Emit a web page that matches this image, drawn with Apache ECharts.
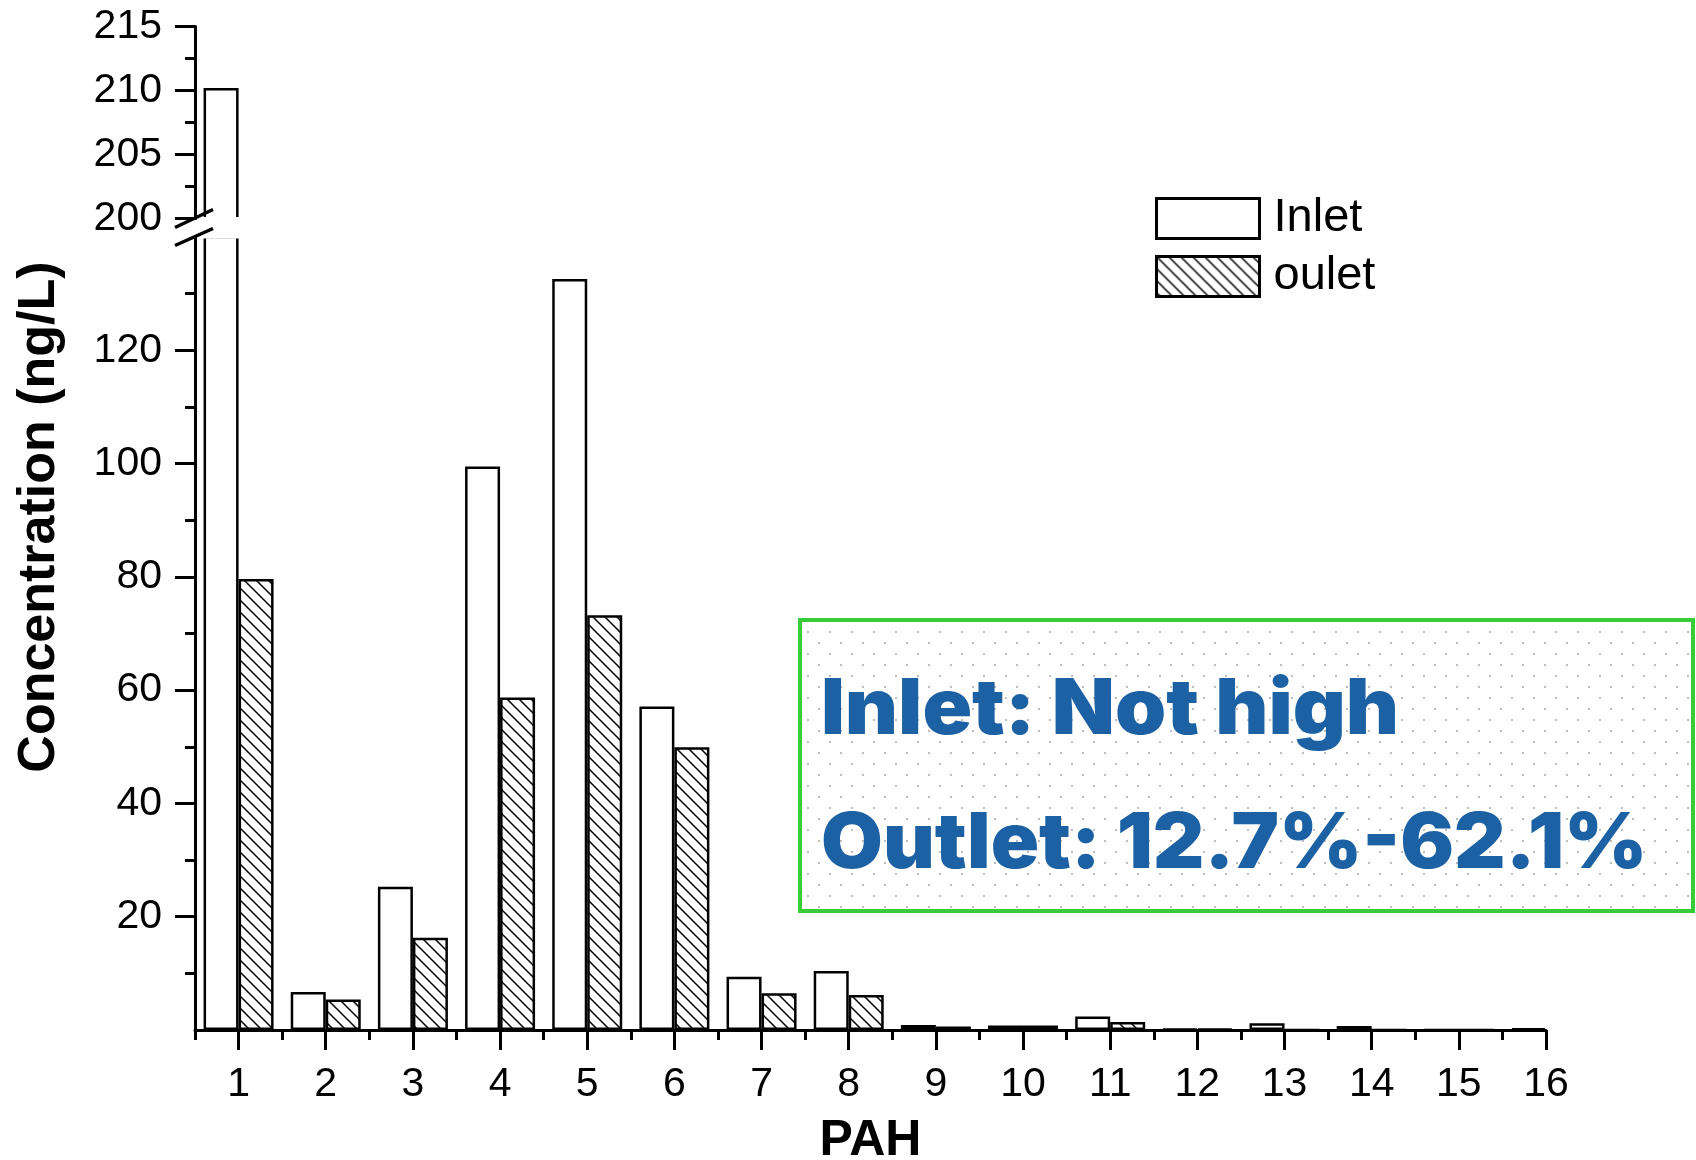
<!DOCTYPE html>
<html>
<head>
<meta charset="utf-8">
<script src="https://cdn.jsdelivr.net/npm/echarts@6/dist/echarts.min.js"></script>
<style>
  html, body { margin: 0; padding: 0; background: #fff; }
  #chart { width: 1696px; height: 1160px; }
</style>
</head>
<body>
<div id="chart"></div>
<script>
// ---- data ----
const categories = [1, 2, 3, 4, 5, 6, 7, 8, 9, 10, 11, 12, 13, 14, 15, 16];
const inletValues = [210.2, 6.7, 25.3, 99.5, 132.6, 57.1, 9.4, 10.4, 0.9, 0.8, 2.4, 0.2, 1.2, 0.7, 0, 0.3];
const outletValues = [79.6, 5.4, 16.3, 58.7, 73.2, 49.9, 6.5, 6.2, 0.6, 0.8, 1.4, 0.2, 0, 0, 0, null];
const xTickLabels = [1, 2, 3, 4, 5, 6, 7, 8, 9, 10, 11, 12, 13, 14, 15, 16];
const xMinorTicks = [0.5, 1.5, 2.5, 3.5, 4.5, 5.5, 6.5, 7.5, 8.5, 9.5, 10.5, 11.5, 12.5, 13.5, 14.5, 15.5];
const yUpperTicks = [200, 205, 210, 215];
const yLowerTicks = [20, 40, 60, 80, 100, 120];
const seriesNames = ['Inlet', 'oulet'];
const yTitle = 'Concentration (ng/L)';
const xTitle = 'PAH';
const noteLines = ['Inlet: Not high', 'Outlet: 12.7%-62.1%'];

// ---- patterns ----
function hatchCanvas() {
  const c = document.createElement('canvas');
  c.width = 12; c.height = 12;
  const g = c.getContext('2d');
  g.fillStyle = '#fff'; g.fillRect(0, 0, 12, 12);
  g.strokeStyle = '#000'; g.lineWidth = 1.5;
  g.beginPath();
  g.moveTo(-2, -2); g.lineTo(14, 14);
  g.moveTo(-2, 10); g.lineTo(2, 14);
  g.moveTo(10, -2); g.lineTo(14, 2);
  g.stroke();
  return c;
}
function dotCanvas() {
  const c = document.createElement('canvas');
  c.width = 22; c.height = 22;
  const g = c.getContext('2d');
  g.fillStyle = '#fff'; g.fillRect(0, 0, 22, 22);
  g.fillStyle = '#bdbdbd';
  g.fillRect(4, 4, 2, 2);
  g.fillRect(15, 15, 2, 2);
  return c;
}
const hatch = { image: hatchCanvas(), repeat: 'repeat' };
const dots = { image: dotCanvas(), repeat: 'repeat' };

const FONT = 'Liberation Sans, Arial, sans-serif';
const pairs = (vals) => categories.map((c, i) => [c, vals[i]]);

const chart = echarts.init(document.getElementById('chart'), null, { renderer: 'canvas' });

const axisLineStyle = { color: '#000', width: 3 };
const tickStyle = { color: '#000', width: 3 };
const labelStyle = { color: '#000', fontSize: 41, fontFamily: FONT };

const inletStyle = { color: '#fff', borderColor: '#000', borderWidth: 2.5 };
const outletStyle = { color: hatch, borderColor: '#000', borderWidth: 2.5 };
const BAR_W = 35;

chart.setOption({
  animation: false,
  backgroundColor: '#fff',
  grid: [
    { left: 195, right: 150, top: 26.5, height: 192, outerBoundsMode: 'none', containLabel: false },
    { left: 195, right: 150, top: 237, bottom: 130, outerBoundsMode: 'none', containLabel: false }
  ],
  legend: {
    data: seriesNames,
    orient: 'vertical',
    left: 1150,
    top: 190,
    itemWidth: 103,
    itemHeight: 40,
    itemGap: 11,
    selectedMode: false,
    icon: 'rect',
    textStyle: { color: '#000', fontSize: 47, fontFamily: FONT, lineHeight: 47, padding: [0, 0, 0, 9] },
    itemStyle: { borderColor: '#000', borderWidth: 3 }
  },
  xAxis: [
    { gridIndex: 0, type: 'value', min: 0.5, max: 16, show: false },
    {
      gridIndex: 1, type: 'value', min: 0.5, max: 16, position: 'bottom',
      axisLine: { show: true, onZero: false, lineStyle: axisLineStyle },
      axisTick: { show: true, length: 20, lineStyle: tickStyle, customValues: xTickLabels },
      axisLabel: { show: true, margin: 34, ...labelStyle, customValues: xTickLabels },
      splitLine: { show: false },
      name: xTitle, nameLocation: 'middle', nameGap: 86,
      nameTextStyle: { color: '#000', fontSize: 50, fontWeight: 'bold', fontFamily: FONT }
    },
    {
      gridIndex: 1, type: 'value', min: 0.5, max: 16, position: 'bottom',
      axisLine: { show: false },
      axisTick: { show: true, length: 10, lineStyle: tickStyle, customValues: xMinorTicks },
      axisLabel: { show: false },
      splitLine: { show: false }
    }
  ],
  yAxis: [
    {
      gridIndex: 0, type: 'value', min: 200, max: 215, interval: 5,
      axisLine: { show: true, onZero: false, lineStyle: axisLineStyle },
      axisTick: { show: true, length: 20, lineStyle: tickStyle, customValues: yUpperTicks },
      minorTick: { show: true, splitNumber: 2, length: 10, lineStyle: tickStyle },
      axisLabel: { margin: 33, ...labelStyle, customValues: yUpperTicks },
      splitLine: { show: false }, minorSplitLine: { show: false }
    },
    {
      gridIndex: 1, type: 'value', min: 0, max: 140, interval: 20,
      axisLine: { show: true, onZero: false, lineStyle: axisLineStyle },
      axisTick: { show: true, length: 20, lineStyle: tickStyle, customValues: yLowerTicks },
      minorTick: { show: true, splitNumber: 2, length: 10, lineStyle: tickStyle },
      axisLabel: { margin: 33, ...labelStyle, customValues: yLowerTicks },
      splitLine: { show: false }, minorSplitLine: { show: false }
    }
  ],
  series: [
    { name: seriesNames[0], type: 'bar', xAxisIndex: 0, yAxisIndex: 0, data: pairs(inletValues), barWidth: BAR_W, barGap: '0%', itemStyle: inletStyle, clip: true },
    { name: seriesNames[1], type: 'bar', xAxisIndex: 0, yAxisIndex: 0, data: pairs(outletValues), barWidth: BAR_W, barGap: '0%', itemStyle: outletStyle, clip: true },
    { name: seriesNames[0], type: 'bar', xAxisIndex: 1, yAxisIndex: 1, data: pairs(inletValues), barWidth: BAR_W, barGap: '0%', itemStyle: inletStyle, clip: true },
    { name: seriesNames[1], type: 'bar', xAxisIndex: 1, yAxisIndex: 1, data: pairs(outletValues), barWidth: BAR_W, barGap: '0%', itemStyle: outletStyle, clip: true }
  ]
});

// ---- decorations computed from the axes ----
const axisX = chart.convertToPixel({ xAxisIndex: 1 }, 0.5);
const firstBarRight = chart.convertToPixel({ xAxisIndex: 1 }, categories[0]);
const upperBottom = chart.convertToPixel({ yAxisIndex: 0 }, 200);
const lowerTop = chart.convertToPixel({ yAxisIndex: 1 }, 140);
const slashStyle = { stroke: '#000', lineWidth: 3.5 };
const noteFont = '900 77px Inter, ' + FONT;

chart.setOption({
  graphic: [
    { type: 'rect', z: 100, silent: true,
      shape: { x: axisX + 2.5, y: upperBottom - 1.6, width: firstBarRight - axisX + 2, height: lowerTop - upperBottom + 3.2 },
      style: { fill: '#fff' } },
    { type: 'line', z: 101, silent: true,
      shape: { x1: axisX - 20, y1: upperBottom + 9, x2: axisX + 18, y2: upperBottom - 9 }, style: slashStyle },
    { type: 'line', z: 101, silent: true,
      shape: { x1: axisX - 20, y1: lowerTop + 8.5, x2: axisX + 18, y2: lowerTop - 8.5 }, style: slashStyle },
    { type: 'text', z: 101, silent: true, x: 40, y: 517, rotation: Math.PI / 2,
      style: { text: yTitle, fill: '#000', font: 'bold 52px ' + FONT, align: 'center', verticalAlign: 'middle' } },
    { type: 'rect', z: 90, silent: true,
      shape: { x: 800, y: 620, width: 893, height: 291 },
      style: { fill: dots, stroke: '#38cc38', lineWidth: 4 } },
    { type: 'text', z: 91, silent: true, x: 821, y: 711, scaleX: 1.065,
      style: { text: noteLines[0], fill: '#1b61a4', font: noteFont, align: 'left', verticalAlign: 'middle' } },
    { type: 'text', z: 91, silent: true, x: 821, y: 845, scaleX: 1.037,
      style: { text: noteLines[1], fill: '#1b61a4', font: noteFont, align: 'left', verticalAlign: 'middle' } }
  ]
});
</script>
</body>
</html>
